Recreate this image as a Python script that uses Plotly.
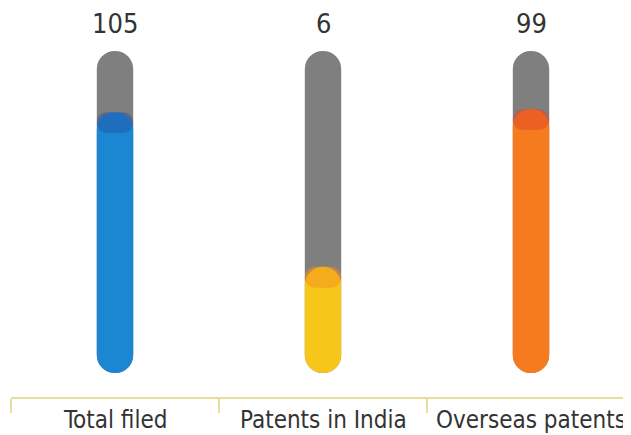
import plotly.graph_objects as go

categories = ['Total filed', 'Patents in India', 'Overseas patents']
values = [105, 6, 99]
fill_level = [0.81, 0.33, 0.82]   # visual fill of each tube (0..1)
fill_colors = ['#1b87d2', '#f7c61b', '#f67b1f']
band_colors = ['#2356a8', '#f48f1c', '#e2462a']
TUBE_GREY = '#7f7f7f'
BAR_W = 0.175
FONT = 'DejaVu Sans Condensed'
EPS = 1e-6

fig = go.Figure()

# grey tube (non-zero base -> both ends rounded)
fig.add_trace(go.Bar(x=categories, y=[1 - EPS] * 3, base=[EPS] * 3, width=BAR_W,
                     marker=dict(color=TUBE_GREY, cornerradius='50%', line_width=0),
                     hoverinfo='skip'))
# coloured fill, grows from the bottom
fig.add_trace(go.Bar(x=categories, y=[f - EPS for f in fill_level], base=[EPS] * 3, width=BAR_W,
                     marker=dict(color=fill_colors, cornerradius='50%', line_width=0),
                     hoverinfo='skip'))
# darker meniscus band at the fill surface
fig.add_trace(go.Bar(x=categories, y=[0.065] * 3, base=[f - 0.065 for f in fill_level], width=BAR_W,
                     marker=dict(color=band_colors, opacity=0.5, cornerradius='50%', line_width=0),
                     hoverinfo='skip'))

for c, v in zip(categories, values):
    fig.add_annotation(x=c, y=1, yanchor='middle', yshift=28, text=str(v), showarrow=False,
                       font=dict(size=27, color='#333333', family=FONT))
    fig.add_annotation(x=c, y=0, yref='paper', yanchor='middle', yshift=-23, text=c,
                       showarrow=False, font=dict(size=24, color='#333333', family=FONT))

# page has an 8px body margin, so offsets below are 8px less than the target pixels
fig.update_layout(
    width=631, height=435, barmode='overlay', showlegend=False,
    margin=dict(l=3, r=4, t=43, b=46),
    paper_bgcolor='white', plot_bgcolor='white',
    font=dict(family=FONT, size=24, color='#333333'),
    xaxis=dict(range=[-0.5, 2.5], showline=True, linecolor='#e6df9c', linewidth=2,
               ticks='outside', tickson='boundaries', ticklen=14, tickcolor='#e6df9c',
               tickwidth=1.5, showgrid=False, showticklabels=False),
    yaxis=dict(range=[-0.0745, 1.0], visible=False, showgrid=False, zeroline=False),
)

fig.write_html("out.html")
